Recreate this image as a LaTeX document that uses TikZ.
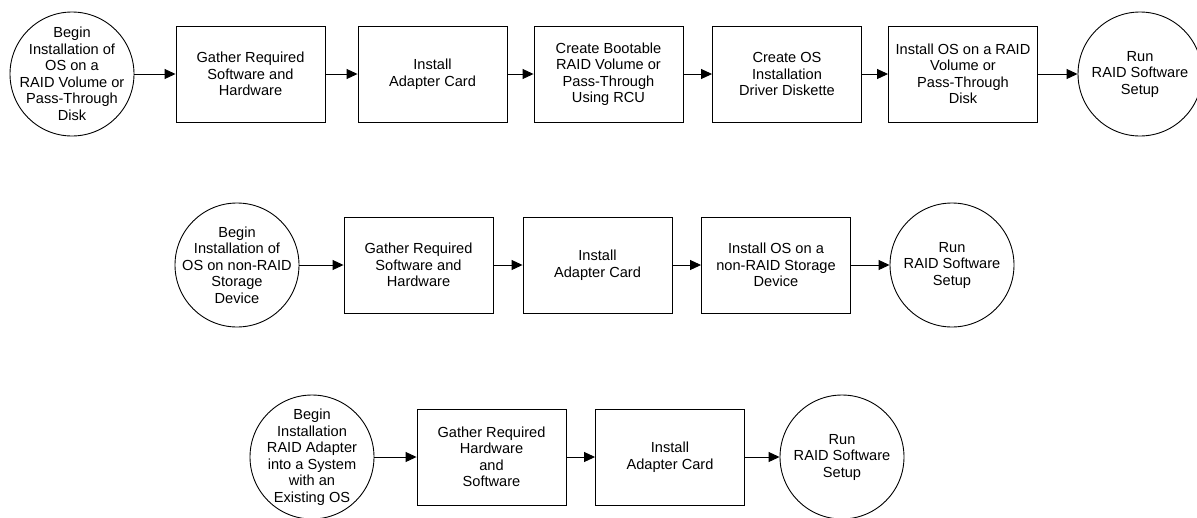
\documentclass[tikz,border=0pt]{standalone}
\usepackage{fontspec}
\setmainfont{Liberation Sans}
\usetikzlibrary{arrows.meta}
\begin{document}
\begin{tikzpicture}[x=1pt,y=-1pt,
  every node/.style={font=\fontsize{14.6}{16.5}\selectfont, align=center},
  stepbox/.style={draw=black, line width=0.9pt, rectangle, minimum width=149pt, minimum height=96pt, inner sep=0pt},
  endcirc/.style={draw=black, line width=0.9pt, circle, minimum size=124pt, inner sep=-20pt},
  arr/.style={draw=black, line width=0.9pt, -{Triangle[length=11pt,width=10pt]}}
]
\useasboundingbox (0,0) rectangle (1197,517);
\fill[white] (0,0) rectangle (1197,517);
% Row 1
\node[endcirc] (a0) at (72,74) {Begin\\Installation of\\OS on a\\RAID Volume or\\Pass-Through\\Disk};
\node[stepbox] (a1) at (250.5,74) {Gather Required\\Software and\\Hardware};
\node[stepbox] (a2) at (432.5,74) {Install\\Adapter Card};
\node[stepbox] (a3) at (608.5,74) {Create Bootable\\RAID Volume or\\Pass-Through\\Using RCU};
\node[stepbox] (a4) at (787,74) {Create OS\\Installation\\Driver Diskette};
\node[stepbox] (a5) at (963,74) {Install OS on a RAID\\Volume or\\Pass-Through\\Disk};
\node[endcirc] (a6) at (1140,74) {Run\\RAID Software\\Setup};
\draw[arr] (a0) -- (a1);
\draw[arr] (a1) -- (a2);
\draw[arr] (a2) -- (a3);
\draw[arr] (a3) -- (a4);
\draw[arr] (a4) -- (a5);
\draw[arr] (a5) -- (a6);
% Row 2
\node[endcirc] (b0) at (237,265) {Begin\\Installation of\\OS on non-RAID\\Storage\\Device};
\node[stepbox] (b1) at (418.5,265) {Gather Required\\Software and\\Hardware};
\node[stepbox] (b2) at (597.5,265) {Install\\Adapter Card};
\node[stepbox] (b3) at (776,265) {Install OS on a\\non-RAID Storage\\Device};
\node[endcirc] (b4) at (952,265) {Run\\RAID Software\\Setup};
\draw[arr] (b0) -- (b1);
\draw[arr] (b1) -- (b2);
\draw[arr] (b2) -- (b3);
\draw[arr] (b3) -- (b4);
% Row 3
\node[endcirc] (c0) at (312,457) {Begin\\Installation\\RAID Adapter\\into a System\\with an\\Existing OS};
\node[stepbox] (c1) at (491.5,457) {Gather Required\\Hardware\\and\\Software};
\node[stepbox] (c2) at (670,457) {Install\\Adapter Card};
\node[endcirc] (c3) at (842,457) {Run\\RAID Software\\Setup};
\draw[arr] (c0) -- (c1);
\draw[arr] (c1) -- (c2);
\draw[arr] (c2) -- (c3);
\end{tikzpicture}
\end{document}
